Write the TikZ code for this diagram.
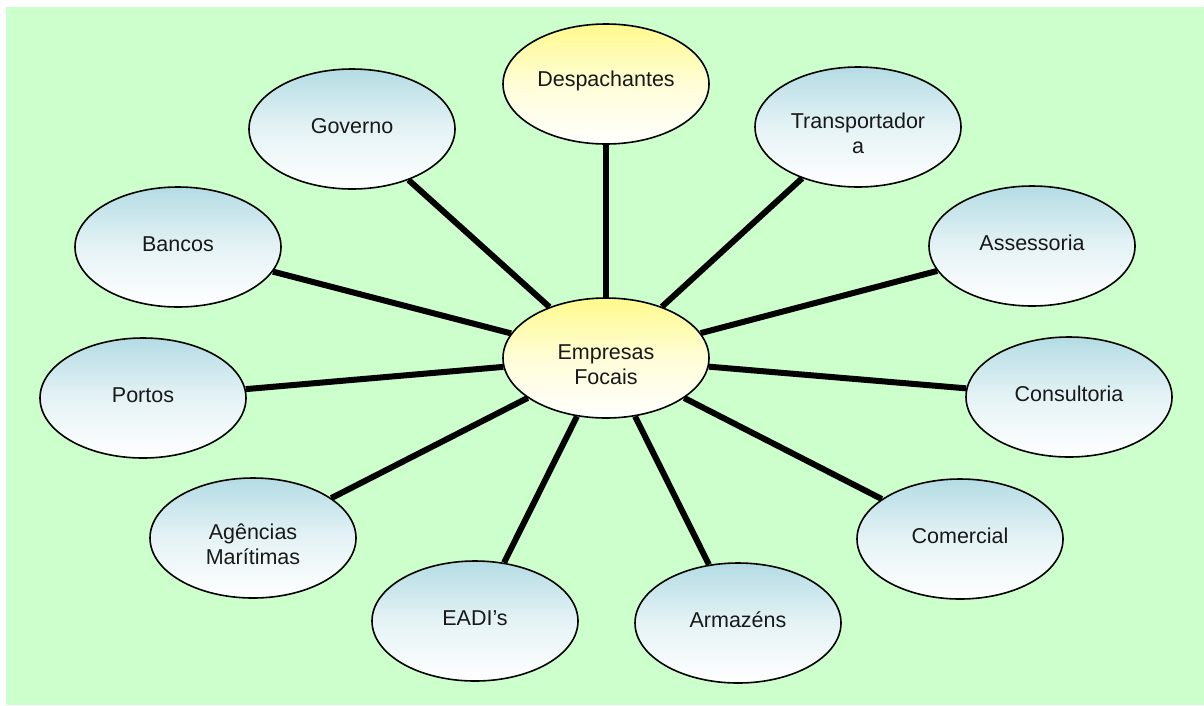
\documentclass[tikz,border=0pt]{standalone}
\usepackage{fontspec}
\setmainfont{Liberation Sans}
\usetikzlibrary{shapes.geometric}
\definecolor{bggreen}{RGB}{204,255,204}
\definecolor{leafblue}{RGB}{180,220,228}
\definecolor{hubyellow}{RGB}{255,250,140}
% label helpers: one line sits a little high, two lines a little low
\newcommand\oneline[1]{\raisebox{3pt}[\height][\depth]{#1}}
\newcommand\pairtext[2]{\raisebox{-9pt}[\height][\depth]{\begin{tabular}{@{}c@{}}#1\\#2\end{tabular}}}
\tikzset{
  bubble/.style={ellipse, draw=black, line width=1.6pt, minimum width=206pt,
    minimum height=120pt, inner sep=0pt, align=center,
    font=\fontsize{21.5}{25}\selectfont, text=black!90},
  leaf/.style={bubble, top color=leafblue, bottom color=white, middle color=leafblue!35},
  hub/.style={bubble, top color=hubyellow, bottom color=white, middle color=hubyellow!35},
  spoke/.style={line width=6pt, black}
}
\begin{document}
\begin{tikzpicture}[x=1pt,y=-1pt]
\useasboundingbox (0,0) rectangle (1204,705);
\fill[bggreen] (6,7) rectangle (1204,705);

% central company and its partners
\node[hub]  (ctr)  at (606,358) {\pairtext{Empresas}{Focais}};
\node[hub]  (desp) at (606,84)  {\oneline{Despachantes}};
\node[leaf] (gov)  at (352,129) {\oneline{Governo}};
\node[leaf] (trans) at (858,127) {\pairtext{Transportador}{a}};
\node[leaf] (banc) at (178,247) {\oneline{Bancos}};
\node[leaf] (asse) at (1032,246) {\oneline{Assessoria}};
\node[leaf] (port) at (143,398) {\oneline{Portos}};
\node[leaf] (cons) at (1069,397) {\oneline{Consultoria}};
\node[leaf] (agen) at (253,538) {\pairtext{Agências}{Marítimas}};
\node[leaf] (come) at (960,539) {\oneline{Comercial}};
\node[leaf] (eadi) at (475,621) {\oneline{EADI’s}};
\node[leaf] (arma) at (738,623) {\oneline{Armazéns}};

% spokes from the centre to every partner
\foreach \n in {desp,gov,trans,banc,asse,port,cons,agen,come,eadi,arma}
  \draw[spoke] (ctr) -- (\n);
\end{tikzpicture}
\end{document}
